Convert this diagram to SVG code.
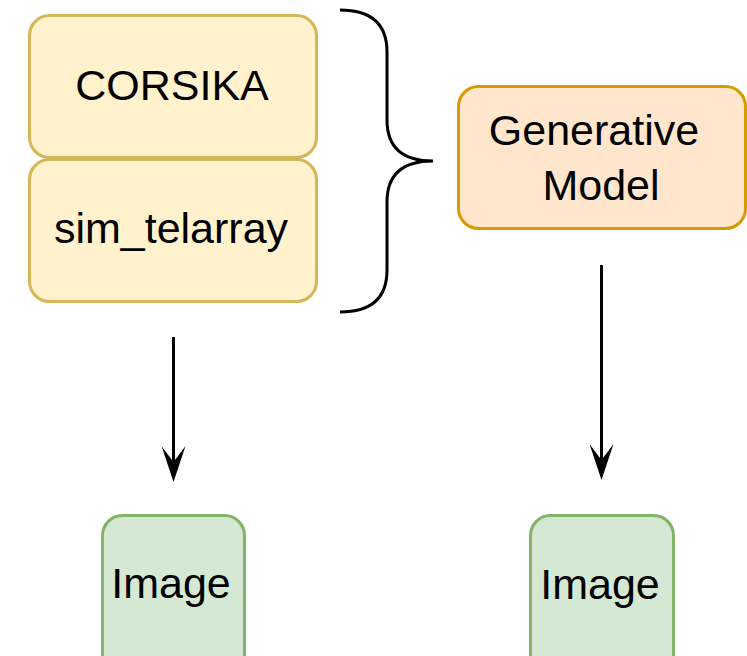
<svg xmlns="http://www.w3.org/2000/svg" width="747" height="656" viewBox="0 0 747 656">
<defs>
<style>
.t{font-family:"Liberation Sans",Arial,Helvetica,sans-serif;font-size:43px;fill:#000;text-anchor:middle}
.y{fill:#fff2cc;stroke:#d6b656;stroke-width:3}
.o{fill:#ffe6cc;stroke:#d79b00;stroke-width:3}
.g{fill:#d5e8d4;stroke:#82b366;stroke-width:3}
.c{fill:none;stroke:#000;stroke-width:3}
</style>
<marker id="arr" viewBox="0 0 36 24" refX="16" refY="12" markerWidth="36" markerHeight="24" markerUnits="userSpaceOnUse" orient="auto">
<path d="M0,0 L36,12 L0,24 L16,12 Z" fill="#000"/>
</marker>
</defs>
<rect width="747" height="656" fill="#fff"/>
<g id="corsika">
<rect class="y" x="29.5" y="15.5" width="287" height="142" rx="20" ry="20"/>
<text class="t" x="172" y="100">CORSIKA</text>
</g>
<g id="sim_telarray">
<rect class="y" x="29.5" y="159.5" width="287" height="142" rx="20" ry="20"/>
<text class="t" x="171" y="243">sim_telarray</text>
</g>
<g id="generative">
<rect class="o" x="458.5" y="86.5" width="287" height="142" rx="20" ry="20"/>
<text class="t" x="594" y="145">Generative</text>
<text class="t" x="601" y="200">Model</text>
</g>
<g id="image1">
<rect class="g" x="102.5" y="515.5" width="142" height="160" rx="20" ry="20"/>
<text class="t" x="171" y="598">Image</text>
</g>
<g id="image2">
<rect class="g" x="530.5" y="515.5" width="143" height="160" rx="20" ry="20"/>
<text class="t" x="600" y="599">Image</text>
</g>
<g id="brace">
<path class="c" d="M340,10 Q387,10 387,52 L387,120 Q387,161 433,161 Q387,161 387,202 L387,270 Q387,312 340,312"/>
</g>
<g id="connectors">
<path class="c" d="M173.5,337 L173.5,462" marker-end="url(#arr)"/>
<path class="c" d="M601.5,265 L601.5,460" marker-end="url(#arr)"/>
</g>
</svg>
